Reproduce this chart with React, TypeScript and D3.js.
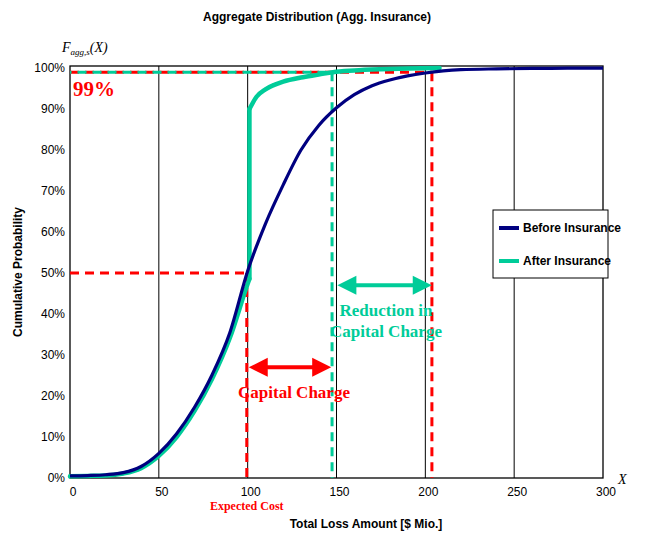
import React, { useRef, useEffect } from 'react';
import * as d3 from 'd3';

// loss amount grid ($ Mio.) and cumulative probabilities
const lossBefore: number[] = [0, 10, 20, 30, 40, 50, 60, 70, 80, 90, 100, 110, 120, 130, 140, 150, 160, 170, 180, 190, 200, 210, 220, 240, 260, 280, 300];
const probBefore: number[] = [0.005, 0.006, 0.008, 0.013, 0.028, 0.06, 0.108, 0.172, 0.252, 0.355, 0.505, 0.62, 0.715, 0.8, 0.86, 0.903, 0.935, 0.957, 0.971, 0.981, 0.988, 0.993, 0.996, 0.998, 0.999, 1.0, 1.0];

// after insurance: below the deductible, then the jump, then the tail
const lossAfterLow: number[] = [0, 10, 20, 30, 40, 50, 60, 70, 80, 90, 100, 101];
const probAfterLow: number[] = [0.004, 0.005, 0.006, 0.011, 0.024, 0.054, 0.1, 0.163, 0.242, 0.342, 0.474, 0.486];
const lossAfterHigh: number[] = [101, 105, 110, 115, 120, 130, 140, 148, 160, 175, 190, 208];
const probAfterHigh: number[] = [0.9, 0.93, 0.948, 0.959, 0.967, 0.977, 0.984, 0.99, 0.994, 0.997, 0.999, 1.0];

const xTicks: number[] = [0, 50, 100, 150, 200, 250, 300];
const yTicks: number[] = [0, 0.1, 0.2, 0.3, 0.4, 0.5, 0.6, 0.7, 0.8, 0.9, 1.0];

// key levels
const expectedCost = 99.5;
const jumpAt = 101;
const varAfter = 147.5;
const varBefore = 203.7;
const confidence = 0.99;

const RED = '#ff0000';
const GREEN = '#00cc99';
const NAVY = '#000080';
const SANS = '"Liberation Sans", Arial, sans-serif';
const SERIF = '"Liberation Serif", "Times New Roman", serif';

const App: React.FC = () => {
  const svgRef = useRef<SVGSVGElement | null>(null);

  useEffect(() => {
    if (!svgRef.current) return;
    const width = 652;
    const height = 537;
    const margin = { top: 66, right: 49, bottom: 59, left: 70 };

    const x = d3.scaleLinear().domain([0, 300]).range([margin.left, width - margin.right]);
    const y = d3.scaleLinear().domain([0, 1.005]).range([height - margin.bottom, margin.top]);

    const svg = d3.select(svgRef.current).attr('width', width).attr('height', height);
    svg.selectAll('*').remove();

    const x0 = x(0), x1 = x(300), yb = y(0), yt = y(1.005);

    // title
    svg.append('text')
      .attr('x', 317).attr('y', 21)
      .attr('text-anchor', 'middle')
      .attr('font-family', SANS).attr('font-weight', 'bold').attr('font-size', 12)
      .text('Aggregate Distribution (Agg. Insurance)');

    // vertical grid lines
    svg.append('g')
      .selectAll('line')
      .data(xTicks.slice(1, -1))
      .join('line')
      .attr('x1', d => x(d)).attr('x2', d => x(d))
      .attr('y1', yt).attr('y2', yb)
      .attr('stroke', '#000').attr('stroke-width', 1);

    // frame
    svg.append('rect')
      .attr('x', x0).attr('y', yt)
      .attr('width', x1 - x0).attr('height', yb - yt)
      .attr('fill', 'none').attr('stroke', '#000').attr('stroke-width', 1.3);

    // x tick labels
    svg.append('g')
      .selectAll('text')
      .data(xTicks)
      .join('text')
      .attr('x', d => x(d) + 3).attr('y', yb + 18)
      .attr('text-anchor', 'middle')
      .attr('font-family', SANS).attr('font-size', 12)
      .text(d => String(d));

    // y tick labels
    svg.append('g')
      .selectAll('text')
      .data(yTicks)
      .join('text')
      .attr('x', x0 - 5).attr('y', d => y(d) + 4)
      .attr('text-anchor', 'end')
      .attr('font-family', SANS).attr('font-size', 12)
      .text(d => d3.format('.0%')(d));

    // axis titles
    svg.append('text')
      .attr('transform', `translate(22,${(yt + yb) / 2}) rotate(-90)`)
      .attr('text-anchor', 'middle')
      .attr('font-family', SANS).attr('font-weight', 'bold').attr('font-size', 12)
      .text('Cumulative Probability');

    svg.append('text')
      .attr('x', 366).attr('y', 528)
      .attr('text-anchor', 'middle')
      .attr('font-family', SANS).attr('font-weight', 'bold').attr('font-size', 12)
      .text('Total Loss Amount [$ Mio.]');

    const fLabel = svg.append('text')
      .attr('x', 62).attr('y', 52)
      .attr('font-family', SERIF).attr('font-style', 'italic').attr('font-size', 14);
    fLabel.append('tspan').text('F');
    fLabel.append('tspan').attr('font-size', 9).attr('dy', 3).text('agg,s');
    fLabel.append('tspan').attr('dy', -3).text('(X)');

    svg.append('text')
      .attr('x', 618).attr('y', 484)
      .attr('font-family', SERIF).attr('font-style', 'italic').attr('font-size', 14)
      .text('X');

    // reference lines
    const dash = (x1v: number, y1v: number, x2v: number, y2v: number, color: string, offset = 0) =>
      svg.append('line')
        .attr('x1', x(x1v)).attr('y1', y(y1v))
        .attr('x2', x(x2v)).attr('y2', y(y2v))
        .attr('stroke', color).attr('stroke-width', 3)
        .attr('stroke-dasharray', '9,6').attr('stroke-dashoffset', offset);

    dash(0, 0.5, expectedCost, 0.5, RED);
    dash(expectedCost, 0.5, expectedCost, 0, RED);
    dash(varBefore, confidence, varBefore, 0, RED);
    dash(varAfter, confidence, varAfter, 0, GREEN);
    dash(0, confidence, varBefore, confidence, RED, 0);
    dash(0, confidence, varAfter, confidence, GREEN, 7.5);

    // curves
    const line = d3.line<[number, number]>()
      .x(d => x(d[0]))
      .y(d => y(d[1]))
      .curve(d3.curveMonotoneX);

    const afterLow = lossAfterLow.map((v, i) => [v, probAfterLow[i]] as [number, number]);
    const afterHigh = lossAfterHigh.map((v, i) => [v, probAfterHigh[i]] as [number, number]);
    const before = lossBefore.map((v, i) => [v, probBefore[i]] as [number, number]);

    const gAfter = svg.append('g')
      .attr('fill', 'none').attr('stroke', GREEN).attr('stroke-width', 4.5)
      .attr('stroke-linejoin', 'round').attr('stroke-linecap', 'round');
    gAfter.append('path').attr('d', line(afterLow));
    gAfter.append('line')
      .attr('x1', x(jumpAt)).attr('x2', x(jumpAt))
      .attr('y1', y(probAfterLow[probAfterLow.length - 1])).attr('y2', y(probAfterHigh[0]));
    gAfter.append('path').attr('d', line(afterHigh));

    svg.append('path')
      .attr('d', line(before))
      .attr('fill', 'none').attr('stroke', NAVY).attr('stroke-width', 3.2);

    // double arrows
    const arrow = (from: number, to: number, level: number, color: string) => {
      const ax = x(from), bx = x(to), ay = y(level);
      const hl = 19, hh = 9.5;
      const g = svg.append('g').attr('fill', color).attr('stroke', color);
      g.append('line')
        .attr('x1', ax + hl - 2).attr('x2', bx - hl + 2)
        .attr('y1', ay).attr('y2', ay).attr('stroke-width', 4);
      g.append('path')
        .attr('stroke', 'none')
        .attr('d', `M${ax},${ay}L${ax + hl},${ay - hh}L${ax + hl},${ay + hh}Z`);
      g.append('path')
        .attr('stroke', 'none')
        .attr('d', `M${bx},${ay}L${bx - hl},${ay - hh}L${bx - hl},${ay + hh}Z`);
    };
    arrow(100.6, 147, 0.27, RED);
    arrow(150.5, 203.6, 0.47, GREEN);

    // annotations
    const note = (tx: number, ty: number, text: string, color: string, size: number, anchor = 'middle') =>
      svg.append('text')
        .attr('x', tx).attr('y', ty)
        .attr('text-anchor', anchor)
        .attr('font-family', SERIF).attr('font-weight', 'bold').attr('font-size', size)
        .attr('fill', color)
        .text(text);

    note(x(0) + 3, 96, '99%', RED, 21, 'start');
    note(294, 398, 'Capital Charge', RED, 17);
    note(386, 316, 'Reduction in', GREEN, 17);
    note(386, 337, 'Capital Charge', GREEN, 17);
    note(x(expectedCost), 510, 'Expected Cost', RED, 12);

    // legend
    const lg = svg.append('g').attr('transform', 'translate(493,210)');
    lg.append('rect')
      .attr('width', 115).attr('height', 68)
      .attr('fill', '#fff').attr('stroke', '#000').attr('stroke-width', 1);
    const items: [string, string][] = [['Before Insurance', NAVY], ['After Insurance', GREEN]];
    items.forEach(([label, color], i) => {
      const ly = 18 + i * 33;
      lg.append('line')
        .attr('x1', 6).attr('x2', 26).attr('y1', ly).attr('y2', ly)
        .attr('stroke', color).attr('stroke-width', 4);
      lg.append('text')
        .attr('x', 30).attr('y', ly + 4)
        .attr('font-family', SANS).attr('font-weight', 'bold').attr('font-size', 12)
        .text(label);
    });
  }, []);

  return <svg ref={svgRef} style={{ position: 'absolute', left: 0, top: 0 }}></svg>;
};

export default App;
